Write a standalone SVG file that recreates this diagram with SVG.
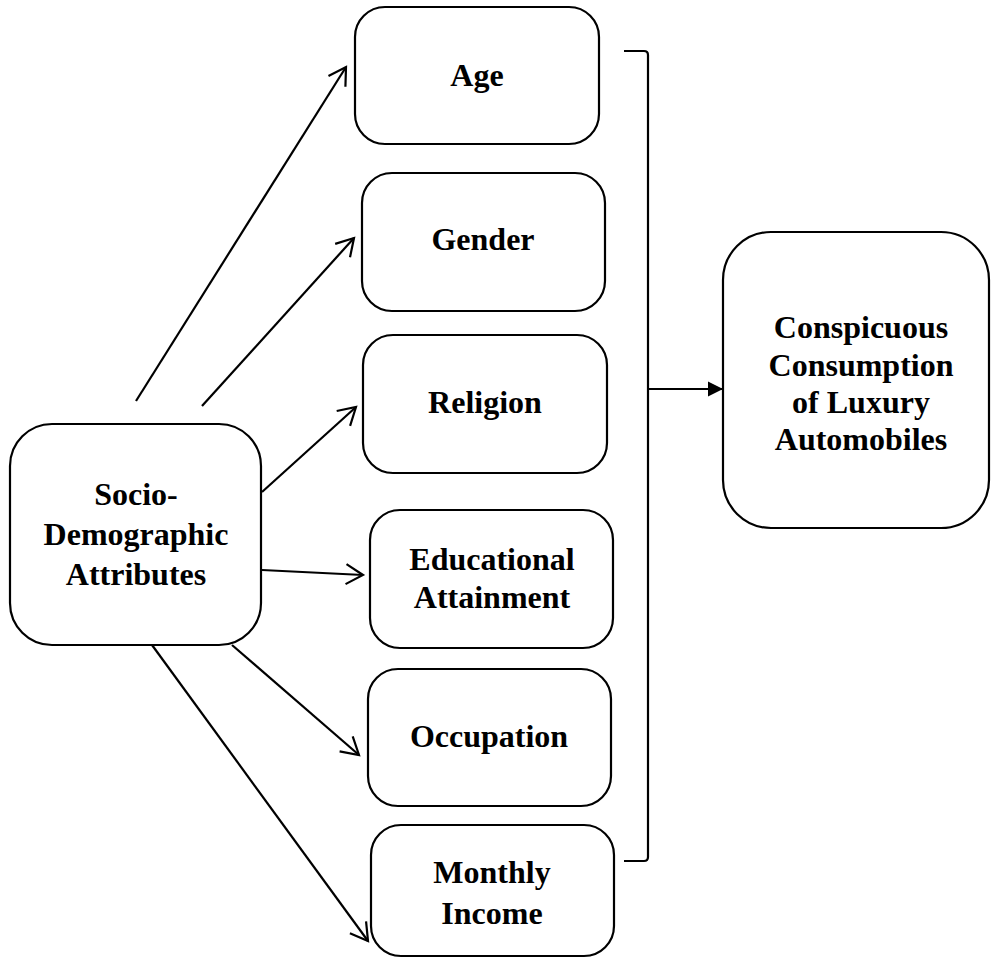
<svg xmlns="http://www.w3.org/2000/svg" width="992" height="960" viewBox="0 0 992 960">
<style>
.box{fill:#fff;stroke:#000;stroke-width:2.2}
.lbl{font-family:"Liberation Serif","Times New Roman",serif;font-weight:bold;font-size:32px;fill:#000;text-anchor:middle}
.con{fill:none;stroke:#000;stroke-width:2.2}
</style>
<defs>
<marker id="open" markerUnits="userSpaceOnUse" markerWidth="24" markerHeight="24" viewBox="-20 -12 24 24" refX="0" refY="0" orient="auto">
<path d="M-17,-10 L0,0 L-17,10" fill="none" stroke="#000" stroke-width="2.2" stroke-linejoin="miter"/>
</marker>
<marker id="solid" markerUnits="userSpaceOnUse" markerWidth="18" markerHeight="18" viewBox="-16 -9 18 18" refX="0" refY="0" orient="auto">
<path d="M-15,-7.5 L0,0 L-15,7.5 Z" fill="#000"/>
</marker>
</defs>
<rect width="992" height="960" fill="#fff"/>
<g id="connectors">
<line class="con" x1="136" y1="401" x2="346" y2="67" marker-end="url(#open)"/>
<line class="con" x1="202" y1="406" x2="354" y2="238" marker-end="url(#open)"/>
<line class="con" x1="262" y1="492" x2="356" y2="407" marker-end="url(#open)"/>
<line class="con" x1="262" y1="570" x2="363" y2="575" marker-end="url(#open)"/>
<line class="con" x1="232" y1="645" x2="359" y2="755" marker-end="url(#open)"/>
<line class="con" x1="152" y1="645" x2="368" y2="941" marker-end="url(#open)"/>
<path class="con" d="M624,51 L644,51 Q648,51 648,55 L648,857 Q648,861 644,861 L624,861"/>
<line class="con" x1="648" y1="389" x2="723" y2="389" marker-end="url(#solid)"/>
</g>
<g id="socio">
<rect class="box" x="10" y="424" width="251" height="221" rx="42"/>
<text class="lbl" x="136" y="505">Socio-</text>
<text class="lbl" x="136" y="545">Demographic</text>
<text class="lbl" x="136" y="585">Attributes</text>
</g>
<g id="age">
<rect class="box" x="355" y="7" width="244" height="137" rx="30"/>
<text class="lbl" x="477" y="86">Age</text>
</g>
<g id="gender">
<rect class="box" x="362" y="173" width="243" height="138" rx="30"/>
<text class="lbl" x="483" y="250">Gender</text>
</g>
<g id="religion">
<rect class="box" x="363" y="335" width="244" height="138" rx="30"/>
<text class="lbl" x="485" y="413">Religion</text>
</g>
<g id="education">
<rect class="box" x="370" y="510" width="243" height="138" rx="30"/>
<text class="lbl" x="492" y="570">Educational</text>
<text class="lbl" x="492" y="608">Attainment</text>
</g>
<g id="occupation">
<rect class="box" x="368" y="669" width="243" height="137" rx="30"/>
<text class="lbl" x="489" y="747">Occupation</text>
</g>
<g id="income">
<rect class="box" x="371" y="825" width="243" height="131" rx="30"/>
<text class="lbl" x="492" y="883">Monthly</text>
<text class="lbl" x="492" y="924">Income</text>
</g>
<g id="outcome">
<rect class="box" x="723" y="232" width="266" height="296" rx="48"/>
<text class="lbl" x="861" y="338">Conspicuous</text>
<text class="lbl" x="861" y="376">Consumption</text>
<text class="lbl" x="861" y="413">of Luxury</text>
<text class="lbl" x="861" y="450">Automobiles</text>
</g>
</svg>
